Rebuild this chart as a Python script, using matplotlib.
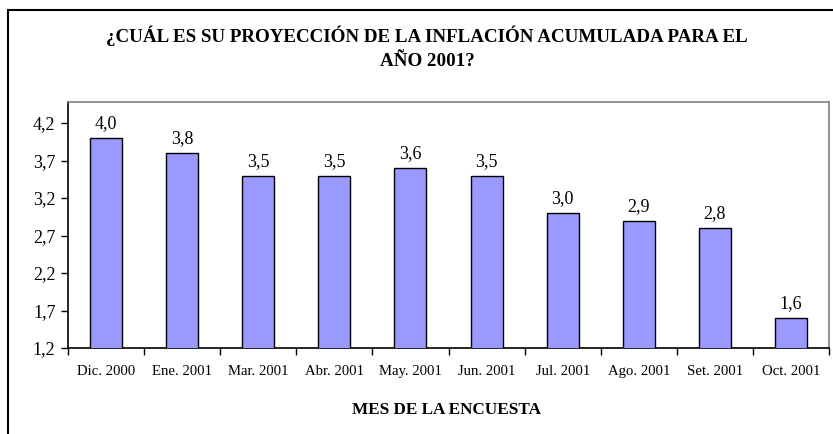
import matplotlib
matplotlib.use("Agg")
import matplotlib.pyplot as plt
from matplotlib.patches import Rectangle

categories = ["Dic. 2000", "Ene. 2001", "Mar. 2001", "Abr. 2001", "May. 2001",
              "Jun. 2001", "Jul. 2001", "Ago. 2001", "Set. 2001", "Oct. 2001"]
values = [4.0, 3.8, 3.5, 3.5, 3.6, 3.5, 3.0, 2.9, 2.8, 1.6]
yticks = [1.2, 1.7, 2.2, 2.7, 3.2, 3.7, 4.2]

W, H = 833, 434
fig = plt.figure(figsize=(W / 100, H / 100), dpi=100)
plt.rcParams['font.family'] = ['Liberation Serif', 'DejaVu Serif']

# outer border (left and top visible)
fig.patches.append(Rectangle((8 / W, -0.1), 1.2, (H - 10) / H + 0.1,
                             transform=fig.transFigure, fill=False,
                             edgecolor='black', linewidth=1.5))

left, right, top, bottom = 68, 829, 102, 348
ax = fig.add_axes([left / W, 1 - bottom / H, (right - left) / W, (bottom - top) / H])

x = list(range(len(categories)))
ax.bar(x, values, width=0.42, color='#9999FF', edgecolor='black', linewidth=1.0, zorder=3)
for xi, v in zip(x, values):
    ax.text(xi, v + 0.13, f"{v:.1f}".replace('.', ','), ha='center', va='baseline',
            fontsize=13)

ax.set_xlim(-0.5, len(categories) - 0.5)
ax.set_ylim(1.2, 4.48)
ax.set_yticks(yticks)
ax.set_yticklabels([f"{t:.1f}".replace('.', ',') for t in yticks], fontsize=13)
ax.set_xticks([i - 0.5 for i in range(len(categories) + 1)], minor=False)
ax.set_xticklabels([])
ax.set_xticks(x, minor=True)
ax.set_xticklabels(categories, minor=True, fontsize=10.6)
ax.tick_params(axis='x', which='minor', length=0, pad=12)
ax.tick_params(axis='x', which='major', length=5, width=1, direction='out')
ax.tick_params(axis='y', length=5, width=1, direction='out', pad=4)

for s in ['top', 'right']:
    ax.spines[s].set_color('#808080')
    ax.spines[s].set_linewidth(1.2)
for s in ['left', 'bottom']:
    ax.spines[s].set_color('black')
    ax.spines[s].set_linewidth(1.2)

fig.text(427 / W, 1 - 42 / H, "¿CUÁL ES SU PROYECCIÓN DE LA INFLACIÓN ACUMULADA PARA EL",
         ha='center', va='baseline', fontsize=13.7, fontweight='bold')
fig.text(427 / W, 1 - 66 / H, "AÑO 2001?", ha='center', va='baseline',
         fontsize=13.7, fontweight='bold')
fig.text(447 / W, 1 - 410 / H, "MES DE LA ENCUESTA", ha='center', va='center',
         fontsize=12.3, fontweight='bold')

fig.savefig("out.png", dpi=100)
